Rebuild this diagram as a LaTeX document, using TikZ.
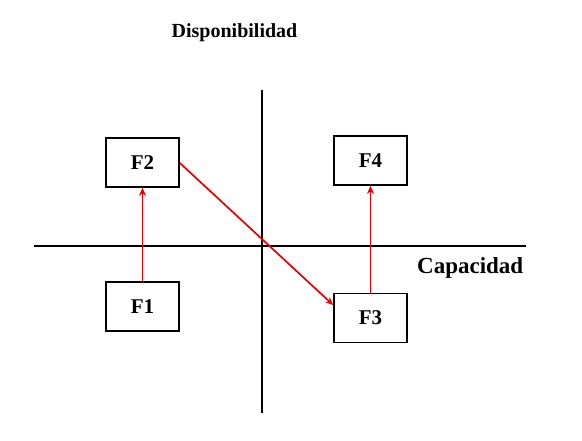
\documentclass[tikz,border=0pt]{standalone}
\usepackage{fontspec}
\setmainfont{Liberation Serif}
\usetikzlibrary{arrows.meta}
\definecolor{arrred}{RGB}{230,0,0}
\tikzset{
  fbox/.style={draw=black, line width=1.7pt, fill=white, minimum width=73pt, minimum height=49pt, inner sep=0pt, font=\fontsize{21}{25}\selectfont\bfseries},
  axis/.style={draw=black, line width=1.7pt},
  redarr/.style={draw=arrred, line width=1.7pt, -{Stealth[length=8pt,width=7pt]}},
  lbl/.style={inner sep=0pt, font=\bfseries}
}
\begin{document}
\begin{tikzpicture}[x=1pt,y=-1pt]
\useasboundingbox (0,0) rectangle (582,440);
\fill[white] (0,0) rectangle (582,440);
\coordinate (hl) at (34,246);
\coordinate (hr) at (526,246);
\coordinate (vt) at (262,90);
\coordinate (vb) at (262,413);
\draw[axis] (hl) -- (hr);
\draw[axis] (vt) -- (vb);
\node[fbox] (F2) at (142.5,162.5) {F2};
\node[fbox] (F1) at (142.5,306.5) {F1};
\node[fbox] (F4) at (370.5,160.5) {F4};
\node[fbox] (F3) at (370.5,318) {F3};
\node[lbl, font=\fontsize{20}{24}\selectfont\bfseries] (disp) at (234.5,33) {Disponibilidad};
\node[lbl, font=\fontsize{23}{27}\selectfont\bfseries, anchor=base west] (cap) at (417,273) {Capacidad};
\draw[redarr] (F1.north) -- (F2.south);
\draw[redarr] (F3.north) -- (F4.south);
\draw[redarr] (F2.east |- 0,163) -- (F3.west |- 0,305);
\end{tikzpicture}
\end{document}
